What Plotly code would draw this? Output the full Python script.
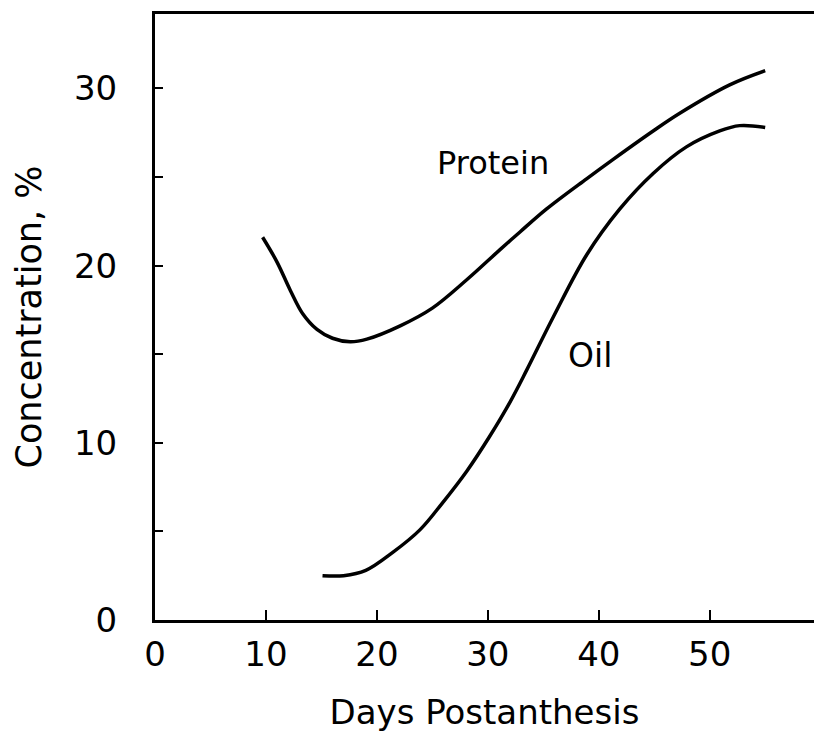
import plotly.graph_objects as go

# values
protein_days = [9.7, 11.0, 12.2, 13.3, 14.6, 16.0, 17.6, 19.1, 22.1, 25.0, 28.1, 31.1, 32.9, 35.3, 38.9, 41.3, 44.9, 47.3, 51.8, 55.0]
protein_conc = [21.6, 20.2, 18.6, 17.3, 16.4, 15.9, 15.7, 15.85, 16.6, 17.6, 19.2, 20.9, 21.9, 23.2, 24.9, 26.0, 27.6, 28.6, 30.2, 31.0]

oil_days = [15.1, 17.0, 19.0, 21.4, 23.9, 25.9, 28.1, 30.2, 32.0, 33.5, 35.9, 38.9, 41.9, 44.9, 47.9, 50.9, 52.7, 55.0]
oil_conc = [2.5, 2.5, 2.8, 3.8, 5.1, 6.6, 8.4, 10.4, 12.3, 14.1, 17.1, 20.6, 23.2, 25.2, 26.7, 27.6, 27.9, 27.8]

x_ticks = [0, 10, 20, 30, 40, 50]
y_ticks = [0, 5, 10, 15, 20, 25, 30]
y_labels = ["0", "", "10", "", "20", "", "30"]

font = "DejaVu Sans"

fig = go.Figure()
fig.add_trace(go.Scatter(x=protein_days, y=protein_conc, mode="lines", name="Protein",
                         line=dict(color="black", width=3.5, shape="spline", smoothing=1)))
fig.add_trace(go.Scatter(x=oil_days, y=oil_conc, mode="lines", name="Oil",
                         line=dict(color="black", width=3.5, shape="spline", smoothing=1)))

fig.add_annotation(x=30.5, y=25.8, text="Protein", showarrow=False,
                   font=dict(family=font, size=32, color="black"))
fig.add_annotation(x=39.2, y=14.9, text="Oil", showarrow=False,
                   font=dict(family=font, size=33, color="black"))

fig.update_layout(
    width=814, height=732,
    margin=dict(l=155, r=0, t=14, b=112),
    plot_bgcolor="white", paper_bgcolor="white",
    showlegend=False,
    font=dict(family=font, color="black"),
    xaxis=dict(range=[0, 59.4], tickvals=x_ticks, ticktext=[str(v) for v in x_ticks],
               ticks="inside", ticklen=10, tickwidth=2, tickcolor="black",
               showline=True, linewidth=3, linecolor="black", mirror=True,
               showgrid=False, zeroline=False, tickfont=dict(size=34),
               ticklabelstandoff=2,
               title=dict(text="Days Postanthesis", font=dict(size=34), standoff=32)),
    yaxis=dict(range=[0, 34.2], tickvals=y_ticks, ticktext=y_labels,
               ticks="inside", ticklen=8, tickwidth=2, tickcolor="black",
               showline=True, linewidth=3, linecolor="black",
               showgrid=False, zeroline=False, tickfont=dict(size=34),
               ticklabelstandoff=28,
               title=dict(text="Concentration, %", font=dict(size=35), standoff=22)),
)

# page has a default 8px body margin; drop it so the figure sits at the window origin
fig.write_html("out.html", config={"displayModeBar": False},
               post_script="document.body.style.margin='0px';")
